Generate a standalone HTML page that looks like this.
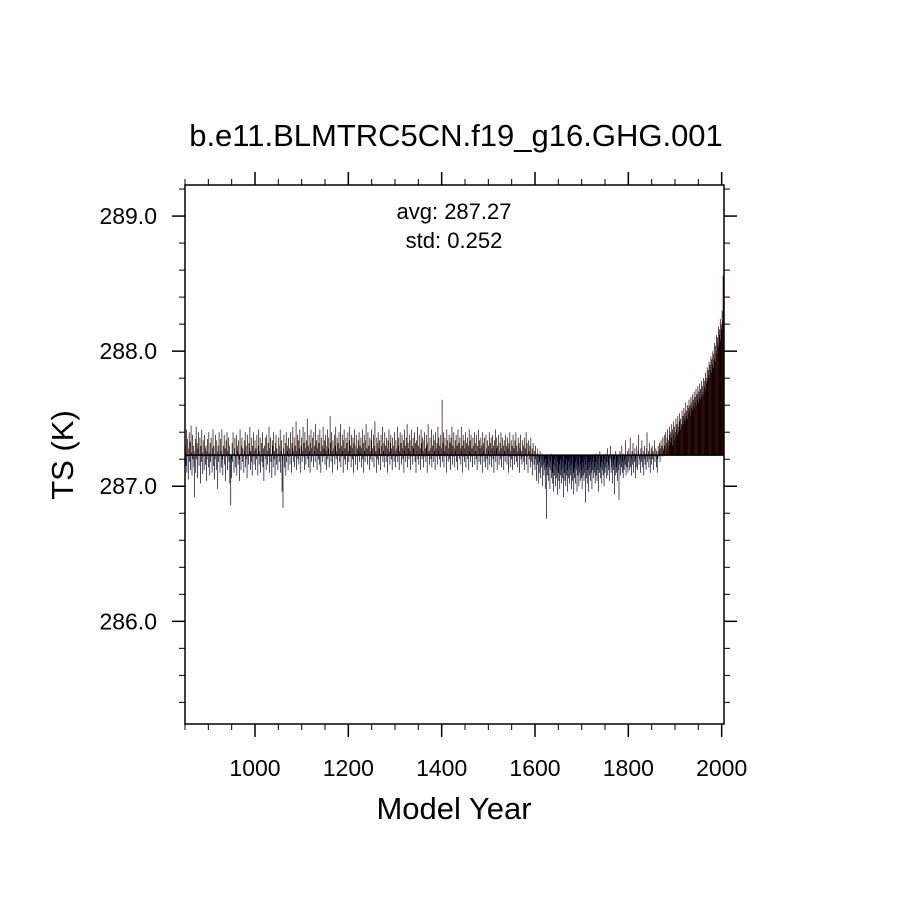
<!DOCTYPE html>
<html><head><meta charset="utf-8"><style>
html,body{margin:0;padding:0;background:#fff;}
svg text{font-family:"Liberation Sans",Helvetica,Arial,sans-serif;fill:#000;}
</style></head><body>
<svg id="chart" width="910" height="910" viewBox="0 0 910 910" xmlns="http://www.w3.org/2000/svg">
<rect width="910" height="910" fill="#fff"/>
<text x="456" y="146" font-size="31" text-anchor="middle">b.e11.BLMTRC5CN.f19_g16.GHG.001</text>
<text x="454" y="219" font-size="22" text-anchor="middle">avg: 287.27</text>
<text x="454" y="248" font-size="22" text-anchor="middle">std:  0.252</text>
<text x="454" y="819" font-size="31" text-anchor="middle">Model Year</text>
<text transform="translate(73,455) rotate(-90)" font-size="31" text-anchor="middle">TS (K)</text>
<g id="bars"></g>
<g id="axes"></g>
</svg>
<script>
const startYear = 850;
const baseline = 287.23;
const xTickLabels = ["1000","1200","1400","1600","1800","2000"];
const yTickLabels = ["286.0","287.0","288.0","289.0"];
// annual TS values, hundredths of K above 287.00
const tsHundredths = [
62,30,15,42,10,35,22,5,28,40,18,33,12,45,25,8,38,20,30,14,-8,26,35,10,44,
20,32,6,28,40,15,24,36,2,30,18,42,25,9,34,22,12,38,28,16,30,4,26,35,20,
14,40,25,8,32,18,36,22,10,28,42,15,30,5,24,38,20,12,34,26,-2,30,18,40,22,
10,35,26,14,42,20,8,30,24,38,16,28,4,34,22,40,12,26,36,18,30,2,24,-14,20,
6,32,18,40,24,10,28,36,14,22,38,8,30,26,16,34,20,4,42,24,12,30,36,18,28,
22,10,34,26,40,14,30,20,6,38,24,16,32,28,44,12,26,18,36,8,30,22,40,16,26,
34,12,28,20,38,24,8,30,42,16,26,36,10,22,32,18,40,14,28,4,30,24,36,20,12,
38,26,16,32,22,44,10,28,36,18,24,6,34,30,14,40,20,26,8,32,38,16,28,22,12,
36,24,18,30,42,10,26,34,-4,20,-16,28,38,14,24,32,8,40,18,26,30,12,36,22,28,
16,40,24,10,32,28,44,18,26,36,14,30,22,48,12,26,38,20,34,16,28,42,24,10,30,
36,18,26,44,22,32,12,40,28,16,34,24,50,20,30,14,38,26,10,32,42,18,28,36,22,
14,40,26,30,18,46,24,34,12,28,38,20,32,16,42,26,10,36,24,30,18,44,22,28,34,
16,38,26,12,30,42,20,28,36,14,24,52,32,18,40,26,10,34,28,22,38,16,30,44,20,
26,36,12,32,24,40,18,28,46,14,30,22,38,26,10,34,42,20,28,16,36,24,32,12,40,
26,18,34,44,22,30,14,38,28,20,36,10,32,42,24,16,30,38,22,28,12,34,26,40,18,
30,24,36,14,28,42,20,32,10,38,26,18,34,46,22,28,16,40,24,30,12,36,26,20,34,
42,18,28,24,38,14,30,48,22,26,10,36,32,20,40,16,28,34,24,12,38,30,22,44,18,
26,32,14,40,24,30,18,36,28,10,34,22,42,26,16,32,38,20,28,12,36,24,30,18,40,
26,14,34,28,22,44,18,30,36,12,26,40,24,32,16,38,28,20,34,10,42,26,30,18,36,
24,46,14,32,28,20,38,26,12,34,42,22,30,16,36,28,24,40,18,32,10,34,26,44,20,
30,16,38,24,28,12,42,32,20,36,26,14,34,40,22,28,18,38,30,10,32,46,24,26,16,
36,28,20,42,14,30,24,38,18,34,26,12,40,28,22,32,16,44,26,36,20,30,14,38,24,
28,64,18,32,40,14,26,36,22,30,10,42,24,34,18,28,38,20,32,12,36,26,44,16,30,
22,40,28,14,34,26,38,18,30,12,42,24,32,20,36,28,16,44,26,30,10,38,22,34,18,
28,40,14,32,24,36,20,30,12,42,26,34,18,38,22,28,14,36,30,24,40,16,32,26,20,
38,12,30,24,42,18,34,28,16,36,22,30,10,40,26,32,18,36,24,14,38,28,20,34,12,
30,26,40,16,32,22,36,14,28,38,20,30,10,34,26,42,18,28,36,12,30,24,38,16,26,
32,20,40,14,28,36,22,30,12,34,26,18,38,24,30,16,36,28,10,32,22,40,14,26,34,
20,30,12,38,24,28,16,34,22,40,18,30,26,14,36,24,32,10,28,38,20,26,16,34,22,
30,18,36,12,28,24,40,16,32,22,10,34,26,20,30,14,36,24,18,28,8,32,22,16,26,
12,30,20,4,24,16,28,2,22,10,18,26,6,20,14,24,0,16,22,8,18,12,-2,20,14,
-24,16,8,22,4,14,20,-2,12,18,6,24,10,2,16,-4,20,8,14,0,22,6,12,-6,18,
10,4,16,-2,20,8,12,2,18,6,14,-8,22,10,4,16,0,20,8,12,-4,18,6,14,2,
20,8,12,-2,16,4,22,10,-6,14,6,18,2,12,20,-4,16,8,14,0,22,10,4,16,6,
12,-2,18,8,14,4,20,10,-12,16,6,22,2,12,18,-4,14,8,20,4,16,10,-2,18,12,
6,22,10,14,2,18,8,24,4,16,12,-4,20,10,26,6,14,18,2,22,12,8,16,0,20,
10,24,14,6,18,28,8,16,12,22,4,20,30,10,14,18,2,24,12,16,-6,20,8,26,14,
10,18,4,22,12,-10,16,26,8,20,14,30,10,18,6,24,12,20,16,34,8,22,14,26,10,
18,28,12,22,36,14,20,8,26,16,32,10,24,18,28,6,20,14,30,22,12,26,38,16,20,
24,10,28,18,34,14,22,26,8,20,30,16,24,12,28,40,18,22,26,14,32,20,10,24,28,
16,30,20,26,12,24,34,18,22,28,14,26,10,20,30,22,26,32,18,28,
34,24,30,22,36,28,26,38,30,24,40,32,28,36,42,26,34,30,44,38,
32,40,36,46,30,42,38,48,34,44,40,36,50,42,46,38,52,44,40,48,
54,42,50,46,44,56,48,52,46,58,50,54,48,62,52,56,50,60,54,58,
64,56,60,52,66,58,62,68,56,64,60,70,58,66,62,72,60,68,64,74,
62,70,66,76,64,72,68,78,66,74,70,80,68,78,74,84,72,80,76,88,
78,86,82,92,80,90,86,96,84,94,90,100,88,98,94,106,92,104,100,112,
98,110,106,118,104,116,112,124,108,120,116,130,122,156,134,162
];

const NS = "http://www.w3.org/2000/svg";
const L = 185, R = 724, T = 185, B = 724;
const xMin = 850, xMax = 2005, yMin = 285.24, yMax = 289.23;
function xs(v){ return L + (v - xMin) / (xMax - xMin) * (R - L); }
function ys(v){ return B - (v - yMin) / (yMax - yMin) * (B - T); }
function mk(tag, attrs, parent){
  const e = document.createElementNS(NS, tag);
  for (const k in attrs) e.setAttribute(k, attrs[k]);
  parent.appendChild(e);
  return e;
}
const barsG = document.getElementById('bars');
const axesG = document.getElementById('axes');

tsHundredths.forEach((h, i) => {
  const v = 287 + h / 100;
  const x = xs(startYear + i);
  const y0 = ys(baseline), y1 = ys(v);
  const above = v >= baseline;
  const ln = mk('line', {x1:x, x2:x, y1:y0, y2:y1, stroke: above ? '#1a0000' : '#00001a', 'stroke-width':0.7}, barsG);
  
  
});
const base = mk('line', {x1:L, x2:R, y1:ys(baseline), y2:ys(baseline), stroke:'#000', 'stroke-width':1.5}, barsG);



const frame = mk('rect', {x:L, y:T, width:R-L, height:B-T, fill:'none', stroke:'#000', 'stroke-width':1.5}, axesG);



for (let yr = 850; yr <= 2000; yr += 50) {
  const x = xs(yr);
  const major = yr % 200 === 0;
  const len = major ? 13 : 6;
  [[B, B+len],[T, T-len]].forEach(p => {
    const t = mk('line', {x1:x, x2:x, y1:p[0], y2:p[1], stroke:'#000', 'stroke-width': major ? 1.5 : 1}, axesG);
    
    
  });
}
xTickLabels.forEach(lbl => {
  const t = mk('text', {x: xs(+lbl), y: 776, 'font-size': 23, 'text-anchor':'middle'}, axesG);
  t.textContent = lbl;
  
  
});
for (let k = 0; k <= 19; k++) {
  const v = 285.4 + k * 0.2;
  if (v > yMax) break;
  const y = ys(v);
  const major = Math.abs(v - Math.round(v)) < 0.01;
  const len = major ? 13 : 6;
  [[L, L-len],[R, R+len]].forEach(p => {
    const t = mk('line', {x1:p[0], x2:p[1], y1:y, y2:y, stroke:'#000', 'stroke-width': major ? 1.5 : 1}, axesG);
    
    
  });
}
yTickLabels.forEach(lbl => {
  const t = mk('text', {x: 157, y: ys(+lbl) + 8, 'font-size': 23, 'text-anchor':'end'}, axesG);
  t.textContent = lbl;
  
  
});
</script>
</body></html>
